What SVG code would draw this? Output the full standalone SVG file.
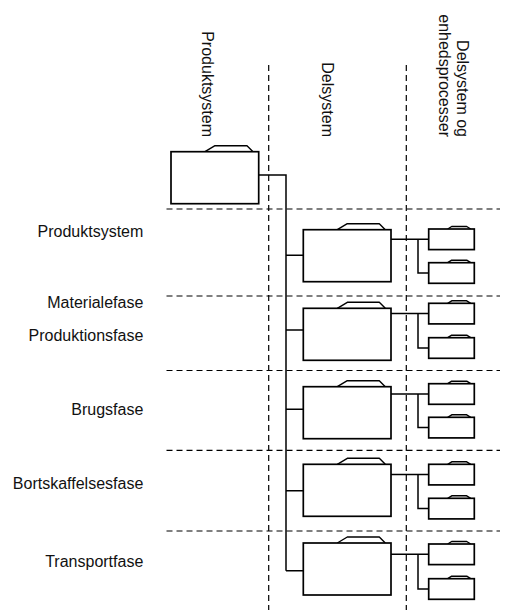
<svg xmlns="http://www.w3.org/2000/svg" width="514" height="610" viewBox="0 0 514 610">
  <style>
    .box { fill: #ffffff; stroke: #000000; stroke-width: 1.7; }
    .tab { fill: #ffffff; stroke: #000000; stroke-width: 1.4; stroke-linejoin: round; }
    .link { fill: none; stroke: #000000; stroke-width: 1.5; }
    .grid { fill: none; stroke: #000000; stroke-width: 1.2; stroke-dasharray: 6 4; }
    .lbl { font-family: "Liberation Sans", Arial, sans-serif; font-size: 16px; fill: #111111; }
  </style>
  <defs>
    <!-- large process box: body with a folder-like tab on top -->
    <g id="bigBox">
      <path class="tab" d="M34 0 L44 -6 L76 -6 L82 0"/>
      <rect class="box" x="0" y="0" width="87.7" height="52"/>
    </g>
    <!-- small unit-process box with a shallow tab -->
    <g id="smallBox">
      <path class="tab" d="M19 0 L23 -2.5 L38 -2.5 L42 0"/>
      <rect class="box" x="0" y="0" width="45.6" height="20.6"/>
    </g>
  </defs>

  <rect width="514" height="610" fill="#ffffff"/>

  <!-- dashed grid separating phases and levels -->
  <g id="grid">
    <line class="grid" x1="268.7" y1="65" x2="268.7" y2="610"/>
    <line class="grid" x1="406.3" y1="65" x2="406.3" y2="610"/>
    <line class="grid" x1="166.5" y1="209" x2="500" y2="209"/>
    <line class="grid" x1="166.5" y1="296" x2="500" y2="296"/>
    <line class="grid" x1="166.5" y1="370.5" x2="500" y2="370.5"/>
    <line class="grid" x1="166.5" y1="450.3" x2="500" y2="450.3"/>
    <line class="grid" x1="166.5" y1="531" x2="500" y2="531"/>
  </g>

  <!-- column headings -->
  <g id="headings" class="lbl" text-anchor="end">
    <text transform="translate(201.6,137) rotate(90)">Produktsystem</text>
    <text transform="translate(321.9,137) rotate(90)">Delsystem</text>
    <text transform="translate(456.8,137) rotate(90)">Delsystem og</text>
    <text transform="translate(438.6,137) rotate(90)">enhedsprocesser</text>
  </g>

  <!-- row labels -->
  <g id="rowLabels" class="lbl" text-anchor="end">
    <text x="143.3" y="237">Produktsystem</text>
    <text x="143.3" y="308">Materialefase</text>
    <text x="143.3" y="340.5">Produktionsfase</text>
    <text x="143.3" y="414.5">Brugsfase</text>
    <text x="143.3" y="488.5">Bortskaffelsesfase</text>
    <text x="143.3" y="566.5">Transportfase</text>
  </g>

  <!-- connectors -->
  <g id="connectors" class="link">
    <path d="M258.7 175 H286 V570.7"/>
    <path d="M286 255.3 H303.3 M286 330 H303.3 M286 409.3 H303.3 M286 490.7 H303.3 M286 570.7 H303.3"/>
    <path d="M391 239.3 H428.7 M418 239.3 V273 H428.7"/>
    <path d="M391 313.6 H428.7 M418 313.6 V348 H428.7"/>
    <path d="M391 394 H428.7 M418 394 V427.6 H428.7"/>
    <path d="M391 474.6 H428.7 M418 474.6 V508.6 H428.7"/>
    <path d="M391 554.3 H428.7 M418 554.3 V589 H428.7"/>
  </g>

  <!-- top-level product system -->
  <g id="produktsystem"><use href="#bigBox" x="171" y="151.7"/></g>

  <!-- subsystems -->
  <g id="delsystem-1"><use href="#bigBox" x="303.3" y="229.7"/></g>
  <g id="delsystem-2"><use href="#bigBox" x="303.3" y="308.3"/></g>
  <g id="delsystem-3"><use href="#bigBox" x="303.3" y="386.7"/></g>
  <g id="delsystem-4"><use href="#bigBox" x="303.3" y="464.3"/></g>
  <g id="delsystem-5"><use href="#bigBox" x="303.3" y="543"/></g>

  <!-- unit processes -->
  <g id="enhed-1a"><use href="#smallBox" x="428.7" y="229"/></g>
  <g id="enhed-1b"><use href="#smallBox" x="428.7" y="262.7"/></g>
  <g id="enhed-2a"><use href="#smallBox" x="428.7" y="303.3"/></g>
  <g id="enhed-2b"><use href="#smallBox" x="428.7" y="337.7"/></g>
  <g id="enhed-3a"><use href="#smallBox" x="428.7" y="383.7"/></g>
  <g id="enhed-3b"><use href="#smallBox" x="428.7" y="417.3"/></g>
  <g id="enhed-4a"><use href="#smallBox" x="428.7" y="464.3"/></g>
  <g id="enhed-4b"><use href="#smallBox" x="428.7" y="498.3"/></g>
  <g id="enhed-5a"><use href="#smallBox" x="428.7" y="544"/></g>
  <g id="enhed-5b"><use href="#smallBox" x="428.7" y="578.7"/></g>
</svg>
